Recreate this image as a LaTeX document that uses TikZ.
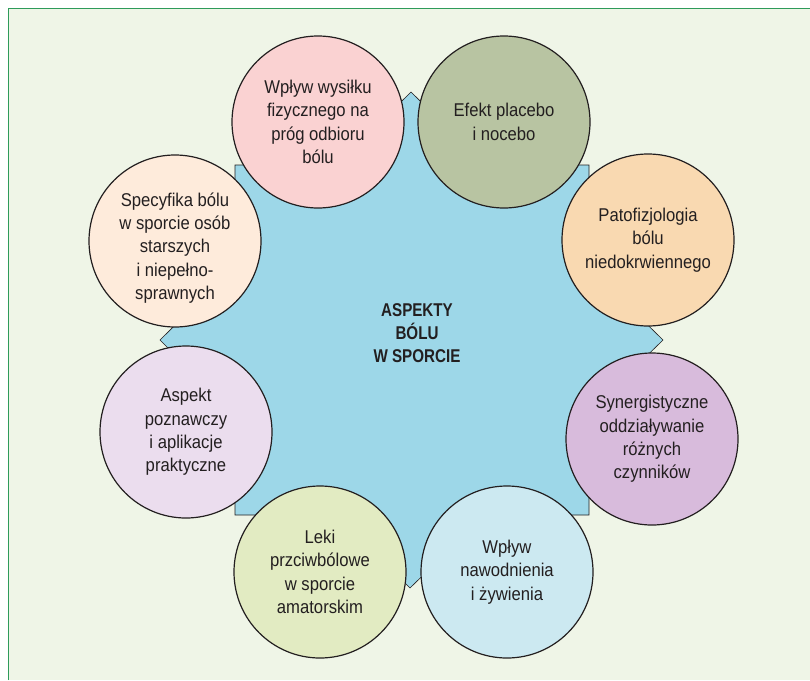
\documentclass[tikz,border=0pt]{standalone}
\usepackage{fontspec}
\setmainfont{Liberation Sans}[FakeStretch=0.9]
\newfontfamily\headfont{Liberation Sans}[FakeStretch=0.82]
\definecolor{pagebg}{HTML}{EFF5E7}
\definecolor{framegreen}{HTML}{2E9B5A}
\definecolor{starblue}{HTML}{9DD7E8}
\definecolor{ink}{HTML}{231F20}
\definecolor{cPink}{HTML}{FAD2D2}
\definecolor{cSage}{HTML}{B8C4A2}
\definecolor{cPeach}{HTML}{F9D9B1}
\definecolor{cLilac}{HTML}{D8BBDC}
\definecolor{cSky}{HTML}{CCE9F1}
\definecolor{cLime}{HTML}{E2EBC2}
\definecolor{cLavender}{HTML}{EBDDEE}
\definecolor{cCream}{HTML}{FEEBDB}
\tikzset{
  bubble/.style={circle, draw=ink, line width=1.2pt, minimum size=172pt,
    inner sep=0pt, align=center, text=ink,
    font=\fontsize{18.5}{23.3}\selectfont},
  bubbletext/.style={align=center, text=ink, inner sep=0pt,
    font=\fontsize{18.5}{23.3}\selectfont},
  hub/.style={align=center, text=ink, inner sep=0pt,
    font=\headfont\bfseries\fontsize{18.5}{23.3}\selectfont}
}
\begin{document}
\begin{tikzpicture}[x=1pt,y=-1pt]
  \useasboundingbox (0,0) rectangle (810,680);
  % page and frame
  \fill[white] (0,0) rectangle (810,680);
  \fill[pagebg] (8.5,8.5) rectangle (810,680);
  \draw[framegreen, line width=1.6pt] (8.5,680) -- (8.5,8.5) -- (810,8.5);

  % eight-pointed star: square and diamond joined
  \draw[fill=starblue, draw=ink, line width=0.6pt]
    (411,92) -- (485.2,165) -- (589,165) -- (589,267.2) -- (663,340)
    -- (589,412.5) -- (589,515) -- (484.5,515) -- (410,588)
    -- (336.4,515) -- (235,515) -- (235,414.4) -- (160,340)
    -- (235,265.9) -- (235,165) -- (337.1,165) -- cycle;

  \node[hub] (hub) at (417,333) {ASPEKTY\\BÓLU\\W SPORCIE};

  % topics around the star
  \node[bubble, fill=cPink] (wysilek) at (318,122)
    {Wpływ wysiłku\\fizycznego na\\próg odbioru\\bólu};
  \node[bubble, fill=cSage] (placebo) at (504,122)
    {Efekt placebo\\i nocebo};
  \node[bubble, fill=cPeach] (pato) at (648,240)
    {Patofizjologia\\bólu\\niedokrwiennego};
  \node[bubble, fill=cLilac] (synergia) at (652,439)
    {Synergistyczne\\oddziaływanie\\różnych\\czynników};
  \node[bubble, fill=cSky] (nawodnienie) at (507,572)
    {Wpływ\\nawodnienia\\i żywienia};
  \node[bubble, fill=cLime] (leki) at (320,572)
    {Leki\\przciwbólowe\\w sporcie\\amatorskim};
  \node[bubble, fill=cLavender] (aspekt) at (186,432)
    {Aspekt\\poznawczy\\i aplikacje\\praktyczne};
  \node[bubble, fill=cCream] (specyfika) at (175,241) {};
  \node[bubbletext] (specyfikatext) at (175,248)
    {Specyfika bólu\\w sporcie osób\\starszych\\i niepełno-\\sprawnych};
\end{tikzpicture}
\end{document}
